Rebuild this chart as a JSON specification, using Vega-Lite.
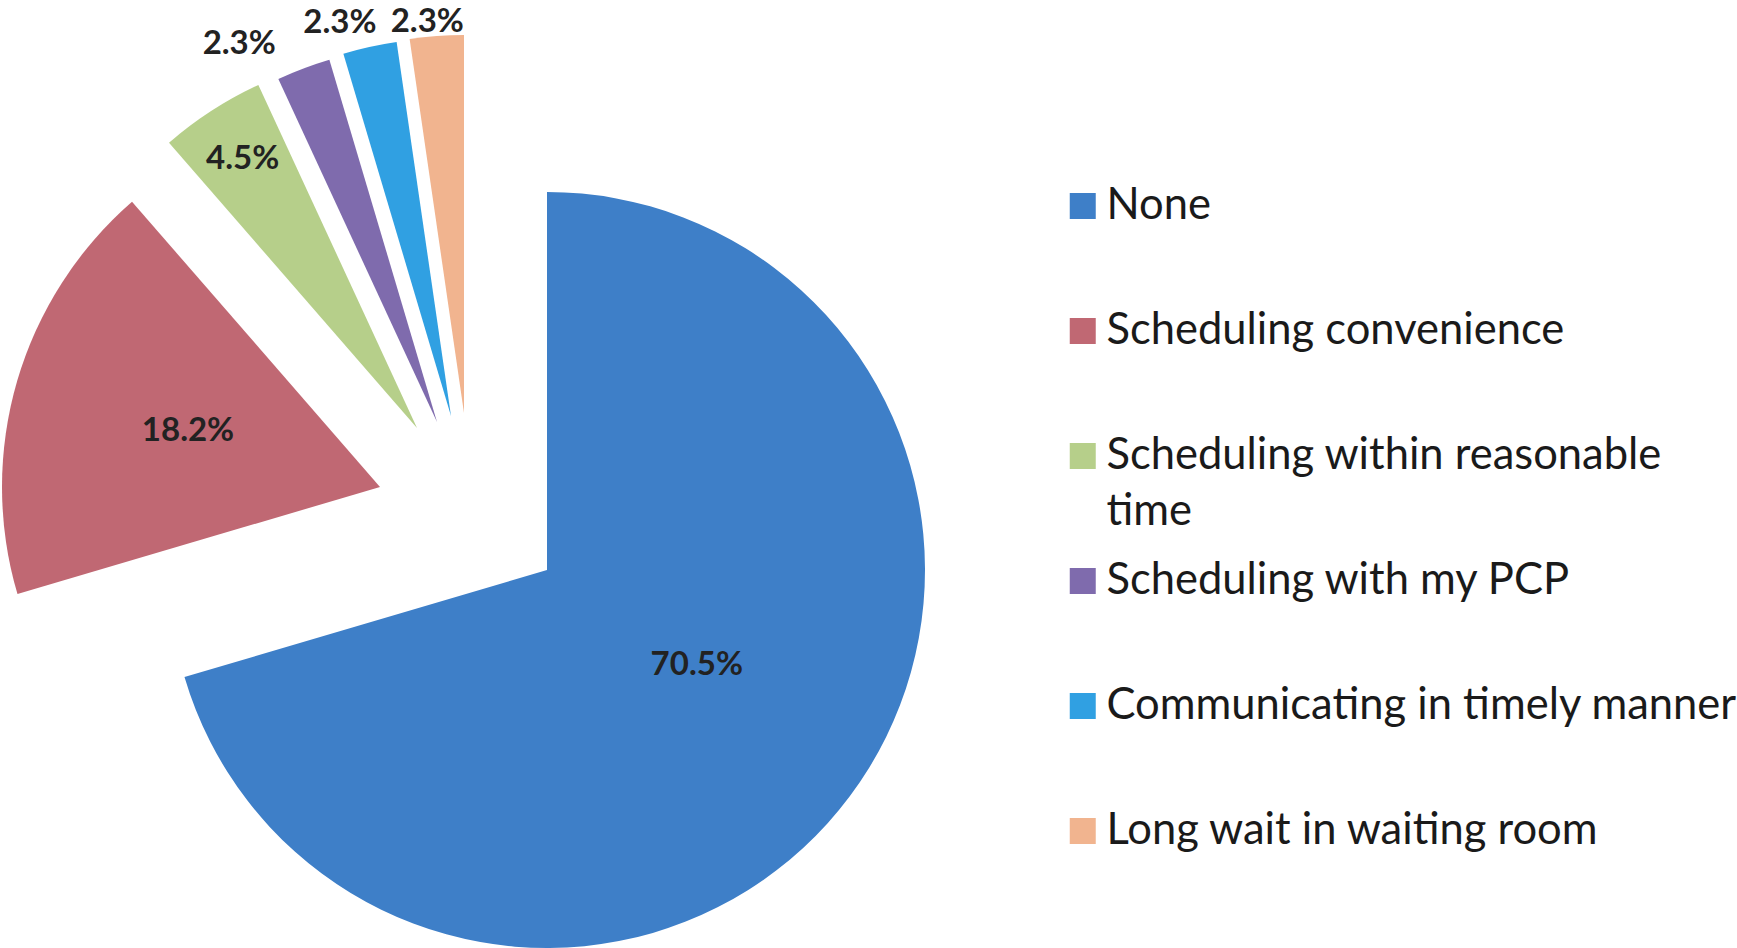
{
  "$schema": "https://vega.github.io/schema/vega-lite/v6.json",
  "width": 1094,
  "height": 756,
  "autosize": {"type": "none"},
  "padding": {"left": 0, "top": 192, "right": 643, "bottom": 0},
  "background": "white",
  "config": {
    "view": {"stroke": null},
    "legend": {"orient": "none", "title": null, "padding": 0,
      "symbolType": "square", "symbolSize": 676, "symbolStrokeWidth": 0,
      "labelFont": "Lato", "labelFontSize": 43.5, "labelColor": "#1a1a1a", "labelOffset": 2, "labelLimit": 900,
      "rowPadding": 65, "clipHeight": 60}
  },
  "data": {"values": [
    {"category": "None", "pct": 70.5, "rank": 1, "label": "70.5%"},
    {"category": "Scheduling convenience", "pct": 18.2, "rank": 2, "label": "18.2%"},
    {"category": "Scheduling within reasonable time", "pct": 4.5, "rank": 3, "label": "4.5%"},
    {"category": "Scheduling with my PCP", "pct": 2.3, "rank": 4, "label": "2.3%"},
    {"category": "Communicating in timely manner", "pct": 2.3, "rank": 5, "label": "2.3%"},
    {"category": "Long wait in waiting room", "pct": 2.3, "rank": 6, "label": "2.3%"}
  ]},
  "encoding": {
    "theta": {"field": "pct", "type": "quantitative", "stack": true},
    "order": {"field": "rank", "type": "quantitative", "sort": "ascending"}
  },
  "resolve": {"scale": {"color": "independent"}, "legend": {"color": "independent"}},
  "layer": [
    {
      "encoding": {
        "color": {"field": "category", "type": "nominal",
          "scale": {"domain": ["None", "Scheduling convenience", "Scheduling within reasonable time", "Scheduling with my PCP", "Communicating in timely manner", "Long wait in waiting room"],
                    "range": ["#3e7fc8", "#c06873", "#b6cf8a", "#7f6bad", "#30a0e2", "#f1b48f"]},
          "legend": {"legendX": 1061, "legendY": -16,
            "values": ["None", "Scheduling convenience", "Scheduling within reasonable time"],
            "labelExpr": "datum.value === 'Scheduling within reasonable time' ? ['Scheduling within reasonable', 'time'] : datum.label",
            "encoding": {"labels": {"lineHeight": {"value": 56}}}
          }}
      },
      "layer": [
        {"mark": {"type": "arc", "radius": 378, "xOffset": 0, "yOffset": 0},
         "encoding": {"opacity": {"condition": {"test": "datum.rank === 1", "value": 1}, "value": 0}}},
        {"mark": {"type": "arc", "radius": 378, "xOffset": -167, "yOffset": -83},
         "encoding": {"opacity": {"condition": {"test": "datum.rank === 2", "value": 1}, "value": 0}}},
        {"mark": {"type": "arc", "radius": 378, "xOffset": -130, "yOffset": -142},
         "encoding": {"opacity": {"condition": {"test": "datum.rank === 3", "value": 1}, "value": 0}}}
      ]
    },
    {
      "encoding": {
        "color": {"field": "category", "type": "nominal",
          "scale": {"domain": ["None", "Scheduling convenience", "Scheduling within reasonable time", "Scheduling with my PCP", "Communicating in timely manner", "Long wait in waiting room"],
                    "range": ["#3e7fc8", "#c06873", "#b6cf8a", "#7f6bad", "#30a0e2", "#f1b48f"]},
          "legend": {"legendX": 1061, "legendY": 359,
            "values": ["Scheduling with my PCP", "Communicating in timely manner", "Long wait in waiting room"]
          }}
      },
      "layer": [
        {"mark": {"type": "arc", "radius": 378, "xOffset": -110, "yOffset": -148},
         "encoding": {"opacity": {"condition": {"test": "datum.rank === 4", "value": 1}, "value": 0}}},
        {"mark": {"type": "arc", "radius": 378, "xOffset": -96, "yOffset": -154},
         "encoding": {"opacity": {"condition": {"test": "datum.rank === 5", "value": 1}, "value": 0}}},
        {"mark": {"type": "arc", "radius": 378, "xOffset": -83, "yOffset": -157},
         "encoding": {"opacity": {"condition": {"test": "datum.rank === 6", "value": 1}, "value": 0}}}
      ]
    },
    {"mark": {"type": "text", "radius": 177, "xOffset": 0, "yOffset": 0, "dx": 8, "dy": -11, "font": "Lato", "fontWeight": "bold", "fontSize": 33, "color": "#222222"},
     "encoding": {"text": {"field": "label"}, "opacity": {"condition": {"test": "datum.rank === 1", "value": 1}, "value": 0}}},
    {"mark": {"type": "text", "radius": 200, "xOffset": -167, "yOffset": -83, "font": "Lato", "fontWeight": "bold", "fontSize": 33, "color": "#222222"},
     "encoding": {"text": {"field": "label"}, "opacity": {"condition": {"test": "datum.rank === 2", "value": 1}, "value": 0}}},
    {"mark": {"type": "text", "radius": 321, "xOffset": -130, "yOffset": -142, "font": "Lato", "fontWeight": "bold", "fontSize": 33, "color": "#222222"},
     "encoding": {"text": {"field": "label"}, "opacity": {"condition": {"test": "datum.rank === 3", "value": 1}, "value": 0}}},
    {"mark": {"type": "text", "radius": 427, "xOffset": -110, "yOffset": -148, "dx": -47, "dy": 21, "font": "Lato", "fontWeight": "bold", "fontSize": 33, "color": "#222222"},
     "encoding": {"text": {"field": "label"}, "opacity": {"condition": {"test": "datum.rank === 4", "value": 1}, "value": 0}}},
    {"mark": {"type": "text", "radius": 410, "xOffset": -96, "yOffset": -154, "dx": -23, "dy": 7, "font": "Lato", "fontWeight": "bold", "fontSize": 33, "color": "#222222"},
     "encoding": {"text": {"field": "label"}, "opacity": {"condition": {"test": "datum.rank === 5", "value": 1}, "value": 0}}},
    {"mark": {"type": "text", "radius": 398, "xOffset": -83, "yOffset": -157, "dx": -8, "dy": 6, "font": "Lato", "fontWeight": "bold", "fontSize": 33, "color": "#222222"},
     "encoding": {"text": {"field": "label"}, "opacity": {"condition": {"test": "datum.rank === 6", "value": 1}, "value": 0}}}
  ]
}
